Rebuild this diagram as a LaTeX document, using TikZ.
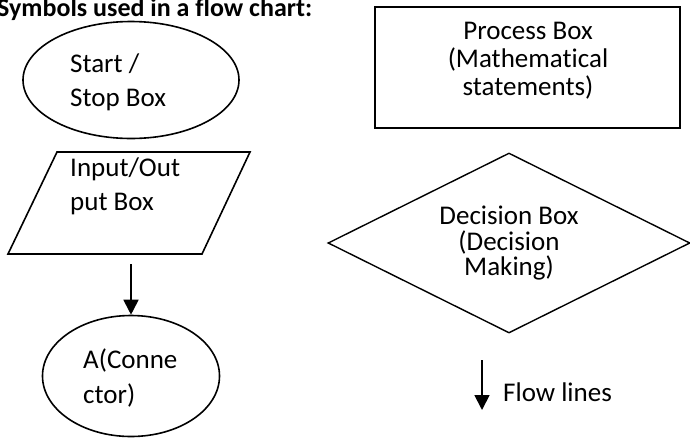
\documentclass[tikz,border=0pt]{standalone}
\usepackage{fontspec}
\setmainfont{Carlito}[Ligatures=NoCommon]
\usetikzlibrary{shapes.geometric,arrows.meta}
\begin{document}
\begin{tikzpicture}[x=1pt,y=-1pt,
  shp/.style={draw=black,line width=1.6pt,inner sep=0pt},
  txt/.style={inner sep=0pt,font=\fontsize{27}{27}\selectfont},
  flow/.style={line width=1.8pt,-{Triangle[width=15pt,length=15pt]}}]
\useasboundingbox (0,0) rectangle (690,437);
\node[txt,font=\bfseries\fontsize{26}{26}\selectfont,anchor=base west] (title) at (-3,16) {Symbols used in a flow chart:};
% start / stop
\node[shp,ellipse,minimum width=216pt,minimum height=117pt] (start) at (131,80) {};
\node[txt,anchor=base west] (startA) at (70,72) {Start /};
\node[txt,anchor=base west] (startB) at (70,106) {Stop Box};
% input/output
\coordinate (io) at (129,203);
\draw[shp] (io) ++(-72,-51) -- ++(193,0) -- ++(-48,102) -- ++(-194,0) -- cycle;
\node[txt,anchor=base west] (ioA) at (70,176) {Input/Out};
\node[txt,anchor=base west] (ioB) at (70,210) {put Box};
% connector
\node[shp,ellipse,minimum width=177pt,minimum height=121pt] (conn) at (131,376) {};
\coordinate (a1) at (131,264);
\draw[flow] (a1) -- (conn.north);
\node[txt,anchor=base west] (connA) at (83,368) {A(Conne};
\node[txt,anchor=base west] (connB) at (83,403) {ctor)};
% process
\node[shp,rectangle,minimum width=305pt,minimum height=121pt] (proc) at (527.5,67.5) {};
\node[txt,anchor=base] (procA) at (528,39) {Process Box};
\node[txt,anchor=base] (procB) at (528,67) {(Mathematical};
\node[txt,anchor=base] (procC) at (528,95) {statements)};
% decision
\node[shp,diamond,minimum width=362pt,minimum height=180pt,line width=1.4pt] (dec) at (509,243) {};
\node[txt,anchor=base] (decA) at (509,224) {Decision Box};
\node[txt,anchor=base] (decB) at (509,250) {(Decision};
\node[txt,anchor=base] (decC) at (509,275) {Making)};
% flow lines
\coordinate (f1) at (482,360);
\coordinate (f2) at (482,410);
\draw[flow] (f1) -- (f2);
\node[txt,anchor=base west] (flowT) at (503,401) {Flow lines};
\end{tikzpicture}
\end{document}
